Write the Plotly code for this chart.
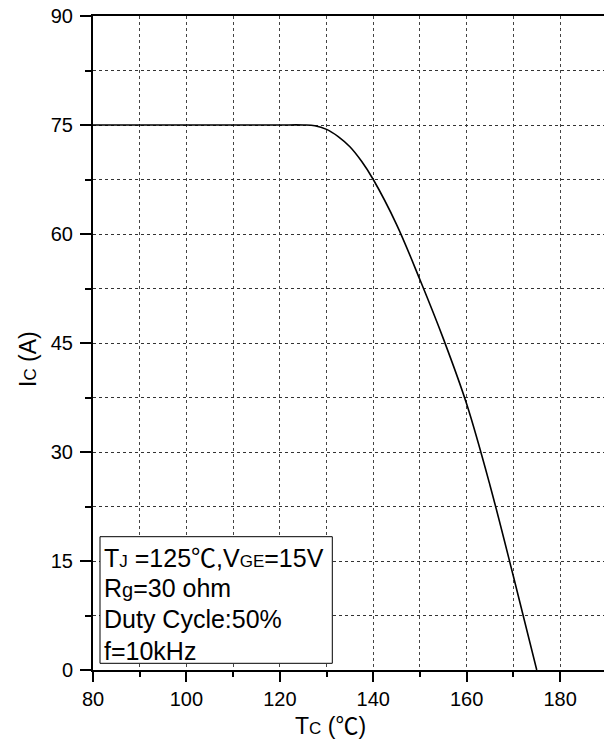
import plotly.graph_objects as go

# Data: collector current vs case temperature
tc_values = [80, 90, 100, 110, 120, 125, 127.5, 130, 132.5, 135, 137.5, 140,
             145, 150, 155, 160, 165, 170, 175]
ic_values = [75, 75, 75, 75, 75, 75, 74.9, 74.4, 73.4, 72.0, 70.0, 67.5,
             61.3, 53.7, 45.6, 36.6, 25.4, 12.9, 0.0]

x_ticks = [80, 100, 120, 140, 160, 180]
y_ticks = [0, 15, 30, 45, 60, 75, 90]

DEG = '<span style="font-family:Noto Sans CJK SC">℃</span>'
info_lines = [
    'T<span style="font-size:17px">J</span> =125' + DEG + ',V<span style="font-size:17px">GE</span>=15V',
    'R<span style="font-size:20px">g</span>=30 ohm',
    'Duty Cycle:50%',
    'f=10kHz',
]
info_pix_y = [554, 586, 617, 649]   # line centres in pixels

FONT = "Liberation Sans, Arial, sans-serif"

L, T, W, H = 93, 16, 604, 742
B = H - 670
PH = H - T - B
PW = W - L


def py_to_paper(py):
    return (H - B - py) / PH


def px_to_paper(px):
    return (px - L) / PW


fig = go.Figure()
fig.add_trace(go.Scatter(
    x=tc_values, y=ic_values, mode="lines",
    line=dict(color="black", width=1.6, shape="spline", smoothing=1.0),
    showlegend=False, hoverinfo="skip",
))

fig.update_layout(
    width=W, height=H,
    margin=dict(l=L, r=0, t=T, b=B, autoexpand=False),
    paper_bgcolor="white", plot_bgcolor="white",
    font=dict(family=FONT, size=20, color="black"),
    showlegend=False,
)

fig.update_xaxes(
    range=[80, 189.4], automargin=False,
    tickmode="array", tickvals=x_ticks, ticktext=[str(v) for v in x_ticks],
    ticks="outside", ticklen=10, tickwidth=2, tickcolor="black",
    showline=True, linewidth=2, linecolor="black", mirror=True,
    showgrid=True, gridcolor="#444", griddash="dot", gridwidth=1,
    zeroline=False,
    minor=dict(dtick=10, tick0=80, ticks="outside", ticklen=5, tickwidth=2,
               tickcolor="black", showgrid=True, gridcolor="#444",
               griddash="dot", gridwidth=1),
    ticklabelstandoff=0,
    tickfont=dict(size=20),
)
fig.update_yaxes(
    range=[0, 90], automargin=False,
    tickmode="array", tickvals=y_ticks, ticktext=[str(v) for v in y_ticks],
    ticks="outside", ticklen=11, tickwidth=2, tickcolor="black",
    showline=True, linewidth=2, linecolor="black", mirror=False,
    showgrid=True, gridcolor="#333", griddash="dot", gridwidth=1,
    zeroline=False,
    minor=dict(dtick=7.5, tick0=0, ticks="outside", ticklen=6, tickwidth=2,
               tickcolor="black", showgrid=True, gridcolor="#333",
               griddash="dot", gridwidth=1),
    ticklabelstandoff=3,
    tickfont=dict(size=20),
)

# Info box
fig.add_shape(type="rect", xref="paper", yref="paper",
              x0=px_to_paper(100), x1=px_to_paper(332.3),
              y0=py_to_paper(663.3), y1=py_to_paper(536.7),
              line=dict(color="black", width=1), fillcolor="white", layer="above")
for txt, pyc in zip(info_lines, info_pix_y):
    fig.add_annotation(x=px_to_paper(103), y=py_to_paper(pyc + 2), xref="paper", yref="paper",
                       text=txt, showarrow=False, xanchor="left", yanchor="middle",
                       borderpad=0,
                       font=dict(family=FONT, size=25, color="black"))

# Axis titles
fig.add_annotation(
    x=px_to_paper(330), y=py_to_paper(724),
    xref="paper", yref="paper",
    text='T<span style="font-size:17px">C</span> (' + DEG + ')', showarrow=False,
    xanchor="center", yanchor="middle", font=dict(family=FONT, size=23, color="black"))
fig.add_annotation(
    x=px_to_paper(28), y=py_to_paper(359),
    xref="paper", yref="paper",
    text='I<span style="font-size:17px">C</span> (A)', showarrow=False, textangle=-90,
    xanchor="center", yanchor="middle", font=dict(family=FONT, size=23, color="black"))

fig.write_html("out.html", post_script="document.body.style.margin='0';",
               config={"displayModeBar": False})
